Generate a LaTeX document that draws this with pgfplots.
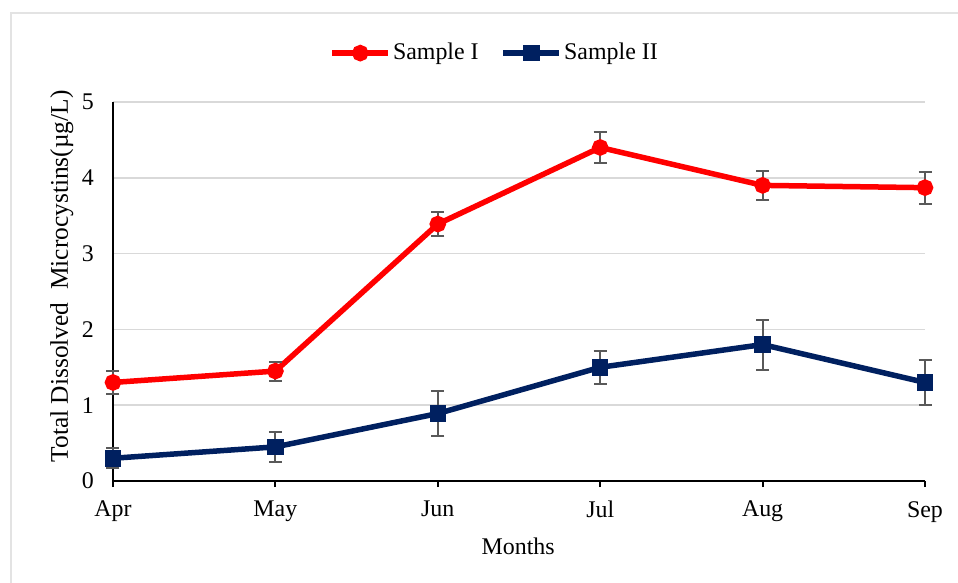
\documentclass[border=0pt]{standalone}
\usepackage{fontspec}
\setmainfont{Liberation Serif}
\usepackage{pgfplots}
\usepackage{pgfplotstable}
\pgfplotsset{compat=1.18}
\definecolor{sred}{HTML}{FF0000}
\definecolor{snavy}{HTML}{002060}
\definecolor{gridc}{HTML}{D9D9D9}
\definecolor{errc}{HTML}{595959}
\definecolor{framec}{HTML}{E3E3E3}
\pgfplotstableread{
x y e
0 1.30 0.15
1 1.45 0.125
2 3.39 0.16
3 4.40 0.20
4 3.90 0.19
5 3.87 0.21
}\sampleone
\pgfplotstableread{
x y e
0 0.30 0.13
1 0.45 0.20
2 0.89 0.30
3 1.50 0.22
4 1.80 0.33
5 1.30 0.30
}\sampletwo
\begin{document}
\fontsize{24}{28}\selectfont
\begin{tikzpicture}
\useasboundingbox (-113bp,-102bp) rectangle (845bp,481bp);
\draw[framec, line width=2bp] (-101.5bp,-102bp) -- (-101.5bp,467.5bp) -- (845bp,467.5bp);
\begin{axis}[
  at={(0,0)}, anchor=south west,
  scale only axis, width=812bp, height=379bp,
  xmin=0, xmax=5, ymin=0, ymax=5,
  clip=false,
  axis lines*=left,
  axis line style={black, line width=2.5bp, -},
  xtick={0,1,2,3,4,5},
  xticklabels={Apr,May,Jun,Jul,Aug,Sep},
  ytick={0,1,2,3,4,5},
  tick align=outside,
  major tick length=6bp,
  xtick style={black, line width=2bp},
  ytick style={draw=none},
  ymajorgrids,
  grid style={gridc, line width=1.5bp},
  /pgf/number format/assume math mode=true,
  tick label style={font=\fontsize{24}{28}\selectfont},
  xticklabel style={yshift=-6bp},
  yticklabel style={xshift=-5bp},
  xlabel={Months},
  ylabel={Total Dissolved\ \ Microcystins(µg/L)},
  xlabel style={font=\fontsize{24}{28}\selectfont, at={(axis description cs:0.499,-0.1715)}, anchor=center},
  ylabel style={font=\fontsize{25.5}{28}\selectfont, at={(axis description cs:-0.063,0.54)}, anchor=center},
  legend style={at={(axis description cs:0.47,1.129)}, anchor=center, draw=none, fill=none,
    legend columns=2, font=\fontsize{24}{28}\selectfont,
    /tikz/every even column/.append style={column sep=20bp}},
  legend cell align=left,
  legend image code/.code={\draw[mark repeat=2,mark phase=2,#1] plot coordinates {(0bp,0bp) (28bp,0bp) (56bp,0bp)};},
]
\addplot[sred, line width=5.5bp, mark=*, mark size=5.5bp,
  error bars/.cd, y dir=both, y explicit,
  error bar style={errc, line width=2bp},
  error mark options={errc, line width=2bp, mark size=6.5bp, rotate=90}]
  table[x=x, y=y, y error=e] {\sampleone};
\addlegendentry{Sample I}
\addplot[snavy, line width=5.5bp, mark=square*, mark size=5.5bp,
  error bars/.cd, y dir=both, y explicit,
  error bar style={errc, line width=2bp},
  error mark options={errc, line width=2bp, mark size=6.5bp, rotate=90}]
  table[x=x, y=y, y error=e] {\sampletwo};
\addlegendentry{Sample II}
\end{axis}
\end{tikzpicture}
\end{document}
